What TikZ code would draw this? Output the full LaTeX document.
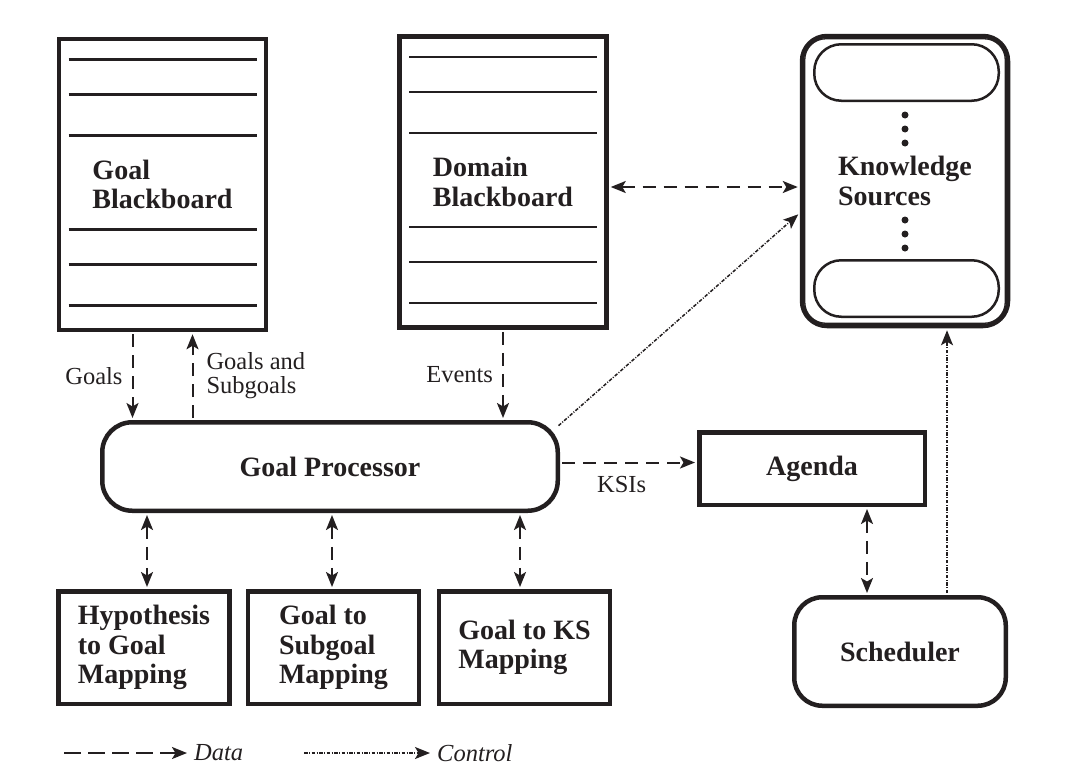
\documentclass[tikz,border=0pt]{standalone}
\usepackage{fontspec}
\setmainfont{Liberation Serif}
\usetikzlibrary{arrows.meta}

\definecolor{ink}{HTML}{231F20}
\newcommand{\boxfont}{\fontsize{28}{29.5}\selectfont\bfseries}
\newcommand{\labfont}{\fontsize{24.5}{24}\selectfont}

\begin{document}
\begin{tikzpicture}[x=1pt, y=-1pt, ink,
  box/.style={draw=ink, line width=4.5pt, inner sep=0pt, align=left, font=\boxfont, text=ink},
  board/.style={box, minimum width=207pt, minimum height=291pt},
  rulebox/.style={box, minimum width=171pt, minimum height=112.5pt},
  roundbox/.style={box, rounded corners=28pt},
  pill/.style={draw=ink, line width=2.5pt, rounded corners=27pt, minimum width=184.5pt, minimum height=56.5pt},
  bbline/.style={line width=2.2pt},
  datalink/.style={line width=2pt, dash pattern=on 13pt off 8pt, shorten <=2pt, shorten >=2pt},
  ctrllink/.style={line width=1.5pt, dash pattern=on 3.5pt off 1.5pt on 1pt off 1.5pt, shorten <=2pt, shorten >=2pt},
  arr/.style={-{Stealth[length=15pt, width=12pt, inset=3.5pt]}},
  twoway/.style={{Stealth[length=15pt, width=12pt, inset=3.5pt]}-{Stealth[length=15pt, width=12pt, inset=3.5pt]}},
  lab/.style={font=\labfont, text=ink, inner sep=0pt, align=left},
]
\useasboundingbox (0,0) rectangle (1076,782);

% blackboards
\node[board] (gbb) at (162.5,184.5) {Goal\\Blackboard};
\node[board] (dbb) at (503,182) {Domain\\Blackboard};
\foreach \b in {gbb,dbb}
  \foreach \o in {125,90,49,-45,-80,-121}
    \draw[bbline] ([xshift=-94pt,yshift=\o pt]\b.center) -- ([xshift=94pt,yshift=\o pt]\b.center);

% knowledge sources
\node[roundbox, rounded corners=25pt, minimum width=206pt, minimum height=290pt] (ks) at (905,181) {Knowledge\\Sources};
\draw[line width=1.3pt, rounded corners=21pt] ([xshift=5pt,yshift=-5pt]ks.north west) rectangle ([xshift=-5pt,yshift=5pt]ks.south east);
\node[pill] (ks1) at (906.5,72.5) {};
\node[pill] (ksn) at (906.5,288.5) {};
\foreach \y in {115,129,143,220,234,248}
  \fill (905,\y) circle (3.5pt);

% processor, agenda, scheduler
\node[roundbox, rounded corners=30pt, minimum width=455.5pt, minimum height=88.5pt] (gp) at (330,466.5) {Goal Processor};
\node[box, minimum width=225.5pt, minimum height=72.5pt] (ag) at (812,468.5) {Agenda};
\node[roundbox, minimum width=211.5pt, minimum height=108.5pt] (sch) at (900,651.5) {Scheduler};

% mappings
\node[rulebox] (hgm) at (144,647.5) {Hypothesis\\to Goal\\Mapping};
\node[rulebox] (gsm) at (333.5,647.5) {Goal to\\Subgoal\\Mapping};
\node[rulebox] (gkm) at (524.5,647.5) {Goal to KS\\Mapping};

% data flow
\coordinate (gl) at ([xshift=-30pt]gbb.south);
\coordinate (gs) at ([xshift=30pt]gbb.south);
\draw[datalink, arr] (gl) -- node[lab, left=9pt] (lgoals) {Goals} (gl |- gp.north);
\draw[datalink, arr] (gs |- gp.north) -- node[lab, right=13pt] (lsub) {Goals and\\Subgoals} (gs);
\draw[datalink, arr] (dbb.south) -- node[lab, left=9pt] (levents) {Events} (dbb.south |- gp.north);

\coordinate (dk) at ([yshift=-5pt]dbb.east);
\draw[datalink, twoway] (dk) -- (dk -| ks.west);

\coordinate (ksi) at ([yshift=4pt]gp.east);
\draw[datalink, arr] (ksi) -- node[lab, below=13pt, pos=0.45] (lksi) {KSIs} (ksi -| ag.west);

\coordinate (as) at ([xshift=55pt]ag.south);
\draw[datalink, twoway] (as) -- (as |- sch.north);

\coordinate (m1) at ([xshift=3pt]hgm.north);
\coordinate (m2) at ([xshift=-1.5pt]gsm.north);
\coordinate (m3) at ([xshift=-4.5pt]gkm.north);
\foreach \m in {m1,m2,m3}
  \draw[datalink, twoway] (\m |- gp.south) -- (\m);

% control flow
\coordinate (gpc) at ([xshift=-3pt,yshift=-7pt]gp.north east);
\coordinate (ksc) at ([yshift=-32pt]ks.west);
\draw[ctrllink, arr] (gpc) -- (ksc);
\coordinate (sc) at ([xshift=47pt]sch.north);
\draw[ctrllink, arr] (sc) -- (sc |- ks.south);

% legend
\coordinate (dleg) at (62,753);
\node[lab, font=\labfont\itshape, anchor=west] (ldata) at (194,753) {Data};
\draw[datalink, arr, dash pattern=on 17pt off 7pt, shorten >=7pt] (dleg) -- (ldata.west);
\coordinate (cleg) at (302,753);
\node[lab, font=\labfont\itshape, anchor=west] (lctrl) at (437,753) {Control};
\draw[ctrllink, arr, shorten >=7pt] (cleg) -- (lctrl.west);

\end{tikzpicture}
\end{document}
